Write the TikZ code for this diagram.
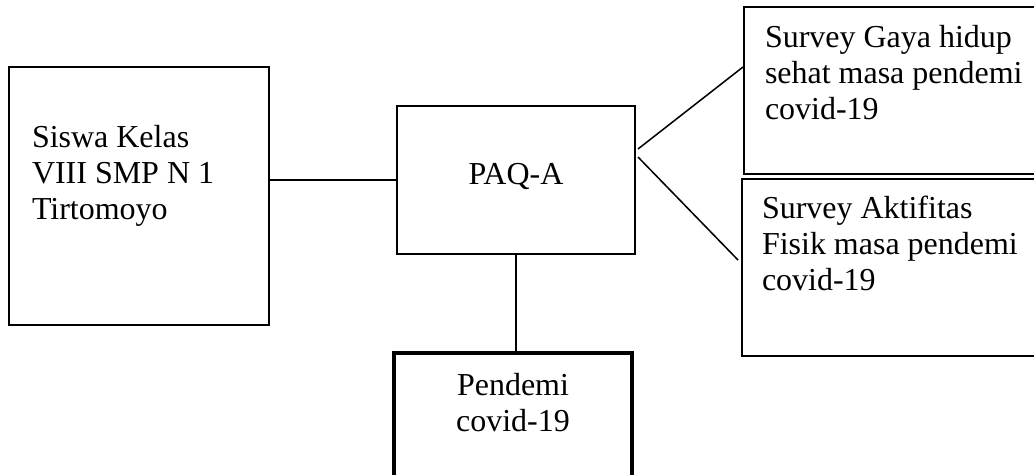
\documentclass[tikz,border=0pt]{standalone}
\usepackage{fontspec}
\setmainfont{Liberation Serif}
\usetikzlibrary{positioning,calc}
\newlength{\px}\setlength{\px}{0.394pt}

\begin{document}
\begin{tikzpicture}[x=\px, y=-\px, line width=0.6pt,
  font=\fontsize{12.6}{14.2}\selectfont,
  box/.style={draw, inner sep=0pt, outer sep=0pt},
  sbox/.style={box, line width=0.8pt},
  tbox/.style={box, line width=1.4pt},
  txt/.style={inner sep=0pt, outer sep=0pt, align=left}]
\useasboundingbox (0,0) rectangle (1034,474);
%% boxes
\node[box, minimum width=260*\px, minimum height=258*\px] (siswa) at (139,196) {};
\node[box, minimum width=238*\px, minimum height=148*\px] (paq) at (516,180) {};
\node[sbox, minimum width=296*\px, minimum height=167*\px] (gaya) at (892,90.5) {};
\node[sbox, minimum width=298*\px, minimum height=177*\px] (aktif) at (891,267.5) {};
\node[tbox, minimum width=238*\px, minimum height=127*\px] (pandemi) at (513,416.5) {};
%% texts
\node[txt, anchor=base] (paqtxt) at ($(paq.center)+(0,4)$) {PAQ-A};
\node[txt, anchor=north west] (siswatxt) at ($(siswa.north west)+(23,58)$) {Siswa Kelas\\VIII SMP N 1\\Tirtomoyo};
\node[txt, anchor=north west] (gayatxt) at ($(gaya.north west)+(21,18)$) {Survey Gaya hidup\\sehat masa pendemi\\covid-19};
\node[txt, anchor=north west] (aktiftxt) at ($(aktif.north west)+(20,17)$) {Survey Aktifitas\\Fisik masa pendemi\\covid-19};
\node[txt, align=center, anchor=north] (pandemitxt) at ($(pandemi.north)+(0,20)$) {Pendemi\\covid-19};
%% connectors
\coordinate (a1) at ($(paq.east)+(3,-31)$);
\coordinate (a2) at ($(paq.east)+(3,-23)$);
\coordinate (b1) at ($(gaya.west)+(-1,-23.5)$);
\coordinate (b2) at ($(aktif.west)+(-4,-7.5)$);
\draw (paq.west -| siswa.east) -- (paq.west);
\draw (a1) -- (b1);
\draw (a2) -- (b2);
\draw (paq.south) -- (paq.south |- pandemi.north);
\end{tikzpicture}
\end{document}
